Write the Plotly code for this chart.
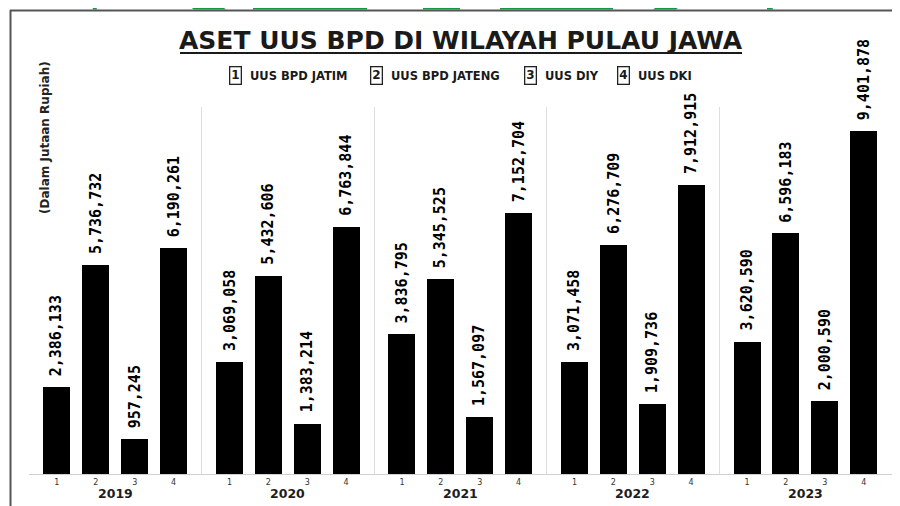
import plotly.graph_objects as go

# ---------------- data ----------------
years = ["2019", "2020", "2021", "2022", "2023"]
series_ids = ["1", "2", "3", "4"]
series_names = ["UUS BPD JATIM", "UUS BPD JATENG", "UUS DIY", "UUS DKI"]
uus_bpd_jatim = [2386133, 3069058, 3836795, 3071458, 3620590]
uus_bpd_jateng = [5736732, 5432606, 5345525, 6276709, 6596183]
uus_diy = [957245, 1383214, 1567097, 1909736, 2000590]
uus_dki = [6190261, 6763844, 7152704, 7912915, 9401878]
title_text = "ASET UUS BPD DI WILAYAH PULAU JAWA"
unit_text = "(Dalam Jutaan Rupiah)"

series_values = [uus_bpd_jatim, uus_bpd_jateng, uus_diy, uus_dki]

# ---------------- geometry helpers ----------------
# the page body has an 8px margin, so the figure is drawn 8px smaller and
# every reference pixel position is shifted by OFF
OFF = 8
W, H = 900 - OFF, 506 - OFF
ML, MR, MT, MB = 29 - OFF, 8, 107 - OFF, 32
PW, PH = W - ML - MR, H - MT - MB
G = 173 / 39.0  # group pitch in bar-pitch units


def px(xp):
    return (xp - OFF - ML) / PW


def py(yp):
    return (H - MB - (yp - OFF)) / PH


xs, ys, ticks = [], [], []
for i, yr in enumerate(years):
    for j, sid in enumerate(series_ids):
        xs.append(i * G + j)
        ys.append(series_values[j][i])
        ticks.append(sid)

group_centers = [i * G + 1.5 for i in range(len(years))]
boundaries = [c + G / 2 for c in group_centers]
x_range = [group_centers[0] - G / 2, boundaries[-1] + 0.01]

fig = go.Figure()
fig.add_trace(go.Bar(
    x=xs, y=ys, width=0.694,
    marker=dict(color="#000000", line=dict(width=0)),
    hoverinfo="x+y", showlegend=False,
))

annotations = []
# value labels
for x, v in zip(xs, ys):
    annotations.append(dict(
        x=x, y=v, xref="x", yref="y", text=f"{v:,}", showarrow=False,
        textangle=-90, xanchor="center", yanchor="bottom", yshift=9,
        font=dict(family="DejaVu Sans Mono", size=15, color="#000000", weight="bold"),
    ))
# year labels
for c, yr in zip(group_centers, years):
    annotations.append(dict(
        x=c, y=py(493), xref="x", yref="paper", text=f"<b>{yr}</b>",
        showarrow=False, xanchor="center", yanchor="middle",
        font=dict(family="DejaVu Sans", size=12.5, color="#1e1e1e"),
    ))
# title
annotations.append(dict(
    x=px(461), y=py(40), xref="paper", yref="paper", text=f"<b>{title_text}</b>",
    showarrow=False, xanchor="center", yanchor="middle",
    font=dict(family="DejaVu Sans", size=25, color="#1a1a1a"),
))
# legend row
box_centers = [235, 376, 530, 623]
text_starts = [248, 389, 543, 636]
for bc, ts, sid, name in zip(box_centers, text_starts, series_ids, series_names):
    annotations.append(dict(
        x=px(bc), y=py(76), xref="paper", yref="paper", text=f"<b>{sid}</b>",
        showarrow=False, xanchor="center", yanchor="middle",
        bordercolor="#222222", borderwidth=1.3, borderpad=1,
        font=dict(family="DejaVu Sans", size=12, color="#1a1a1a"),
    ))
    annotations.append(dict(
        x=px(ts), y=py(76), xref="paper", yref="paper", text=f"<b>{name}</b>",
        showarrow=False, xanchor="left", yanchor="middle",
        font=dict(family="DejaVu Sans", size=11.5, color="#1a1a1a"),
    ))
# unit label
annotations.append(dict(
    x=px(45), y=py(138), xref="paper", yref="paper", text=f"<b>{unit_text}</b>",
    showarrow=False, textangle=-90, xanchor="center", yanchor="middle",
    font=dict(family="DejaVu Sans", size=12, color="#222222"),
))

shapes = []
# title underline
shapes.append(dict(type="line", xref="paper", yref="paper",
                   x0=px(180), x1=px(742), y0=py(53), y1=py(53),
                   line=dict(color="#1a1a1a", width=2)))
# frame
shapes.append(dict(type="line", xref="paper", yref="paper",
                   x0=px(10), x1=px(901), y0=py(10.5), y1=py(10.5),
                   line=dict(color="#555555", width=2)))
shapes.append(dict(type="line", xref="paper", yref="paper",
                   x0=px(10.5), x1=px(10.5), y0=py(10), y1=py(507),
                   line=dict(color="#555555", width=2)))

# partial green logo above the frame
green = "#16983f"


def poly(points):
    d = "M " + " L ".join(f"{px(a):.5f},{py(b):.5f}" for a, b in points) + " Z"
    return dict(type="path", xref="paper", yref="paper", path=d,
                fillcolor=green, line=dict(width=0), layer="below")


shapes.append(poly([(92, 5), (96, 5), (97, 9.5), (93, 9.5)]))
shapes.append(poly([(180, 0), (214, 0), (226, 9.5), (194, 9.5)]))
shapes.append(poly([(253, 0), (277, 0), (277, 5), (337, 5), (337, 0), (367, 0), (367, 9.5), (253, 9.5)]))
shapes.append(poly([(423, 0), (460, 0), (460, 9.5), (423, 9.5)]))
shapes.append(poly([(500, 0), (530, 0), (530, 5), (580, 5), (580, 0), (613, 0), (613, 9.5), (500, 9.5)]))
shapes.append(poly([(666, 0), (688, 0), (676, 9.5), (653, 9.5)]))
shapes.append(poly([(767, 6), (772, 6), (773, 9.5), (767, 9.5)]))

fig.update_layout(
    width=W, height=H,
    margin=dict(l=ML, r=MR, t=MT, b=MB, pad=0),
    paper_bgcolor="#ffffff", plot_bgcolor="#ffffff",
    bargap=0, showlegend=False,
    annotations=annotations, shapes=shapes,
    xaxis=dict(
        range=x_range, tickmode="array", tickvals=xs, ticktext=ticks,
        tickfont=dict(family="DejaVu Sans", size=8, color="#333333"),
        ticks="", showgrid=False, zeroline=False,
        showline=True, linecolor="#d0d0d0", linewidth=1,
        minor=dict(tickmode="array", tickvals=boundaries, showgrid=True,
                   gridcolor="#dedede", gridwidth=1, ticks=""),
        fixedrange=True,
    ),
    yaxis=dict(range=[0, 10060000], visible=False, showgrid=False,
               zeroline=False, fixedrange=True),
)

fig.write_html("out.html")
